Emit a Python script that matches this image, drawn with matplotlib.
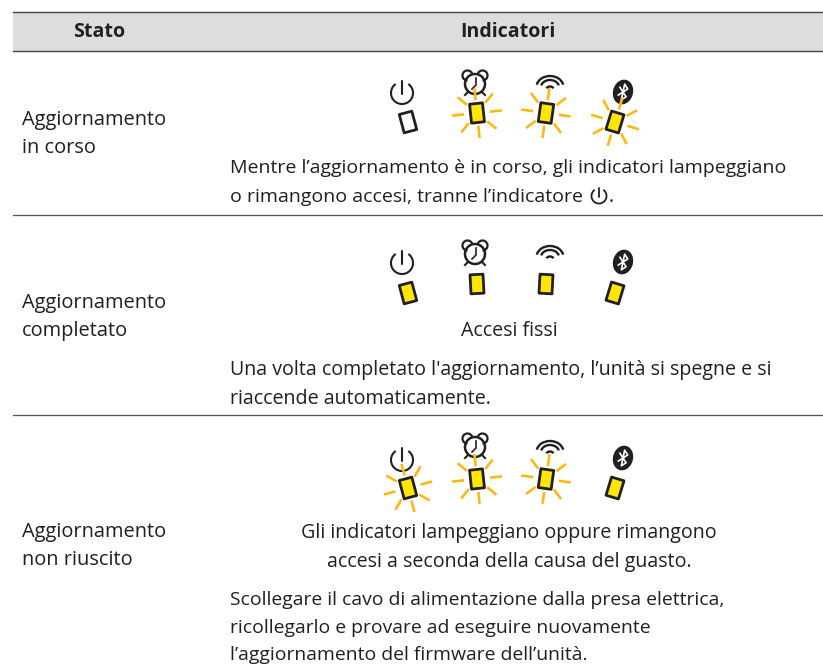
import numpy as np
import matplotlib
matplotlib.use("Agg")
import matplotlib.pyplot as plt
from matplotlib.patches import Rectangle, Arc, Circle, Ellipse, Polygon

plt.rcParams['font.family'] = ['Open Sans', 'DejaVu Sans']

headers = ["Stato", "Indicatori"]
states = ["Aggiornamento\nin corso", "Aggiornamento\ncompletato", "Aggiornamento\nnon riuscito"]

# 0 = off, 1 = steady, 2 = flashing; order: power, alarm, wifi, bluetooth
led_status = [
    [0, 2, 2, 2],
    [1, 1, 1, 1],
    [2, 2, 2, 1],
]

row1_text = ["Mentre l’aggiornamento è in corso, gli indicatori lampeggiano",
             "o rimangono accesi, tranne l’indicatore"]
row2_note = "Accesi fissi"
row2_text = ["Una volta completato l'aggiornamento, l’unità si spegne e si",
             "riaccende automaticamente."]
row3_note = ["Gli indicatori lampeggiano oppure rimangono",
             "accesi a seconda della causa del guasto."]
row3_text = ["Scollegare il cavo di alimentazione dalla presa elettrica,",
             "ricollegarlo e provare ad eseguire nuovamente",
             "l’aggiornamento del firmware dell’unità."]

DARK = "#231f20"
YELLOW = "#ffe600"
RAY = "#fdb913"
TXT = "#231f20"
FS = 14.1

fig = plt.figure(figsize=(8.23, 6.71), dpi=100)
ax = fig.add_axes([0, 0, 1, 1])
ax.set_xlim(0, 823)
ax.set_ylim(671, 0)
ax.axis("off")


def power_icon(x, y, r=11, lw=1.5):
    ax.add_patch(Arc((x, y), 2 * r, 2 * r, angle=0, theta1=-55, theta2=235,
                     color=DARK, lw=lw))
    ax.plot([x, x], [y - r - 1, y + 1], color=DARK, lw=lw, solid_capstyle="round")


def alarm_icon(x, y):
    ax.add_patch(Circle((x, y), 10, fill=False, ec=DARK, lw=1.8))
    ax.add_patch(Arc((x - 7.5, y - 8.5), 10, 10, angle=0, theta1=90, theta2=340, color=DARK, lw=1.6))
    ax.add_patch(Arc((x + 7.5, y - 8.5), 10, 10, angle=0, theta1=200, theta2=90, color=DARK, lw=1.6))
    ax.plot([x - 7, x - 10], [y + 8, y + 11], color=DARK, lw=1.5)
    ax.plot([x + 7, x + 10], [y + 8, y + 11], color=DARK, lw=1.5)
    ax.plot([x + 1, x + 1, x - 3], [y - 6, y + 1, y + 5], color=DARK, lw=1.2)


def wifi_icon(x, y):
    ax.add_patch(Arc((x, y), 27, 22, angle=0, theta1=190, theta2=350, color=DARK, lw=1.7))
    ax.add_patch(Arc((x, y), 18, 14, angle=0, theta1=190, theta2=350, color=DARK, lw=1.7))
    ax.add_patch(Arc((x, y + 2), 7, 5, angle=0, theta1=190, theta2=350, color=DARK, lw=1.7))


def bt_icon(x, y):
    ax.add_patch(Ellipse((x, y), 20, 25, angle=15, color=DARK, lw=0))
    px = np.array([-4, 4, 0, 0, 4, -4])
    py = np.array([-4, 4, 8, -8, -4, 4])
    t = np.radians(12)
    ax.plot(x + px * np.cos(t) - py * np.sin(t), y + px * np.sin(t) + py * np.cos(t),
            color="white", lw=1.2)


def led(x, y, tilt, status):
    t = np.radians(tilt)
    w, h = 6.5, 9.5
    corners = np.array([[-w, -h], [w, -h], [w, h], [-w, h]], dtype=float)
    xs = x + corners[:, 0] * np.cos(t) - corners[:, 1] * np.sin(t)
    ys = y + corners[:, 0] * np.sin(t) + corners[:, 1] * np.cos(t)
    face = "white" if status == 0 else YELLOW
    ax.add_patch(Polygon(np.c_[xs, ys], closed=True, fc=face, ec=DARK, lw=2.0,
                         joinstyle="round", zorder=4))
    if status == 2:
        for k in range(8):
            a = np.radians(tilt + k * 45)
            ax.plot([x + 13 * np.cos(a), x + 25 * np.cos(a)],
                    [y + 13 * np.sin(a), y + 25 * np.sin(a)],
                    color=RAY, lw=1.9, solid_capstyle="butt", zorder=3)


# header band and rules
ax.add_patch(Rectangle((13, 12), 810, 39, fc="#dcddde", ec="none"))
ax.plot([13, 823], [12, 12], color="#444444", lw=1.0)
ax.plot([13, 823], [51, 51], color="#444444", lw=1.0)
ax.plot([13, 823], [215, 215], color="#555555", lw=0.9)
ax.plot([13, 823], [415, 415], color="#555555", lw=0.9)

ax.text(99, 32, headers[0], ha="center", va="center", fontsize=FS, fontweight="bold", color=TXT)
ax.text(508, 32, headers[1], ha="center", va="center", fontsize=FS, fontweight="bold", color=TXT)

# indicators
led_x = [408, 477, 546, 615]
led_tilt = [-15, -3, 3, 17]
ray_tilt = [-15, -6, 8, 17]
led_y = [122, 113, 113, 122]
row_shift = [0, 171, 366]
power_shift = [0, 170, 367]
alarm_shift = [0, 170, 363]
wifi_shift = [0, 170, 365]
bt_shift = [0, 170, 366]

for r, statuses in enumerate(led_status):
    ds = row_shift[r]
    power_icon(402, 93 + power_shift[r])
    alarm_icon(475, 84 + alarm_shift[r])
    wifi_icon(550, 87 + wifi_shift[r])
    bt_icon(623, 92 + bt_shift[r])
    for i, st in enumerate(statuses):
        led(led_x[i], led_y[i] + ds, led_tilt[i] if st != 2 else ray_tilt[i], st)

# left column
for s, y in zip(states, [134, 317, 546]):
    a, b = s.split("\n")
    ax.text(22, y - 14, a, ha="left", va="center", fontsize=14.4, color=TXT)
    ax.text(22, y + 14, b, ha="left", va="center", fontsize=14.4, color=TXT)


# right column text
def block(lines, y0, x=230, step=28.5, ha="left", size=FS):
    for i, line in enumerate(lines):
        ax.text(x, y0 + i * step, line, ha=ha, va="center", fontsize=size, color=TXT)


block(row1_text, 168, size=14.0)
power_icon(599, 196, r=7.5, lw=1.3)
ax.text(609, 196.5, ".", ha="left", va="center", fontsize=FS, color=TXT)
ax.text(509, 331, row2_note, ha="center", va="center", fontsize=FS, color=TXT)
block(row2_text, 370)
block(row3_note, 533, x=509, ha="center")
block(row3_text, 600, step=27.7, size=13.95)

fig.savefig("out.png", dpi=100)
